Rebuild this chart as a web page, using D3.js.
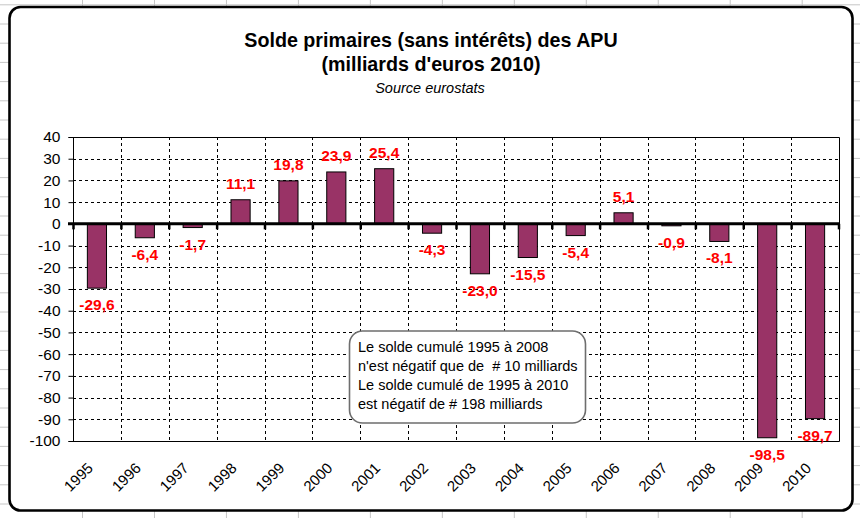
<!DOCTYPE html>
<html>
<head>
<meta charset="utf-8">
<script src="https://cdn.jsdelivr.net/npm/d3@7"></script>
<style>
  body { margin: 0; background: #fff; }
  svg { display: block; font-family: "Liberation Sans", Arial, sans-serif; }
</style>
</head>
<body>
<div id="chart"></div>
<script>
// chart data
const years = ['1995','1996','1997','1998','1999','2000','2001','2002',
               '2003','2004','2005','2006','2007','2008','2009','2010'];
const solde = [-29.6, -6.4, -1.7, 11.1, 19.8, 23.9, 25.4, -4.3,
               -23.0, -15.5, -5.4, 5.1, -0.9, -8.1, -98.5, -89.7];
const yTicks = [40, 30, 20, 10, 0, -10, -20, -30, -40, -50, -60, -70, -80, -90, -100];
const titleLines = ['Solde primaires (sans intérêts) des APU', "(milliards d'euros 2010)"];
const subtitle = 'Source eurostats';
const noteLines = ['Le solde cumulé 1995 à 2008',
                   "n'est négatif que de  # 10 milliards",
                   'Le solde cumulé de 1995 à 2010',
                   'est négatif de # 198 milliards'];

const width = 860, height = 518;
const plot = { left: 73, right: 839, top: 137, bottom: 441 };

// excel style numbers: plain hyphen, decimal comma
const fmtLabel = d => d3.format('.1f')(d).replace('.', ',').replace('\u2212', '-');
const fmtTick = d => String(d);

const svg = d3.select('#chart')
  .append('svg')
  .attr('width', width)
  .attr('height', height);

// spreadsheet grid behind the chart object
const sheet = svg.append('g').attr('stroke', '#c6c6c6').attr('stroke-width', 1);
sheet.selectAll('line.col')
  .data(d3.range(0, 12))
  .enter().append('line')
  .attr('x1', k => 82.5 + k * 71.97).attr('x2', k => 82.5 + k * 71.97)
  .attr('y1', 0).attr('y2', height);
sheet.selectAll('line.row')
  .data(d3.range(0, 28))
  .enter().append('line')
  .attr('y1', k => 4.8 + k * 19.2).attr('y2', k => 4.8 + k * 19.2)
  .attr('x1', 0).attr('x2', width);

// chart object frame
svg.append('rect')
  .attr('x', 9.5).attr('y', 7)
  .attr('width', 843).attr('height', 503.5)
  .attr('rx', 11).attr('ry', 11)
  .attr('fill', '#fff')
  .attr('stroke', '#000')
  .attr('stroke-width', 2.6);

// titles
svg.selectAll('text.title')
  .data(titleLines)
  .enter().append('text')
  .attr('x', 431)
  .attr('y', (d, i) => 46.5 + i * 24.5)
  .attr('text-anchor', 'middle')
  .attr('font-size', '19.7px')
  .attr('font-weight', 'bold')
  .text(d => d);

svg.append('text')
  .attr('x', 430)
  .attr('y', 93)
  .attr('text-anchor', 'middle')
  .attr('font-size', '14.5px')
  .attr('font-style', 'italic')
  .text(subtitle);

// scales
const x = d3.scaleBand()
  .domain(years)
  .range([plot.left, plot.right])
  .paddingInner(0).paddingOuter(0);
const y = d3.scaleLinear()
  .domain([-100, 40])
  .range([plot.bottom, plot.top]);

// horizontal dashed gridlines
svg.append('g')
  .selectAll('line')
  .data(yTicks.filter(v => v !== 40 && v !== -100 && v !== 0))
  .enter().append('line')
  .attr('x1', plot.left).attr('x2', plot.right)
  .attr('y1', d => Math.round(y(d)) + 0.5).attr('y2', d => Math.round(y(d)) + 0.5)
  .attr('stroke', '#000')
  .attr('stroke-dasharray', '3,3');

// vertical dashed gridlines at category boundaries
svg.append('g')
  .selectAll('line')
  .data(years.slice(1))
  .enter().append('line')
  .attr('x1', d => Math.round(x(d)) + 0.5).attr('x2', d => Math.round(x(d)) + 0.5)
  .attr('y1', plot.top).attr('y2', plot.bottom)
  .attr('stroke', '#000')
  .attr('stroke-dasharray', '3,3');

// plot border (top, right, bottom)
svg.append('path')
  .attr('d', `M${plot.left},${plot.top + 0.5}H${plot.right + 0.5}V${plot.bottom + 0.5}H${plot.left}`)
  .attr('fill', 'none')
  .attr('stroke', '#000');

// bars
const barW = x.bandwidth() * 0.4;
svg.append('g')
  .selectAll('rect')
  .data(solde)
  .enter().append('rect')
  .attr('x', (d, i) => x(years[i]) + (x.bandwidth() - barW) / 2)
  .attr('y', d => y(Math.max(0, d)))
  .attr('width', barW)
  .attr('height', d => Math.abs(y(d) - y(0)))
  .attr('fill', '#993366')
  .attr('stroke', '#000')
  .attr('stroke-width', 1);

// y axis
const yAxis = svg.append('g')
  .attr('transform', `translate(${plot.left + 0.5},0)`)
  .call(d3.axisLeft(y).tickValues(yTicks).tickSize(5).tickPadding(8).tickFormat(fmtTick));
yAxis.selectAll('.tick line').attr('stroke', '#000');
yAxis.selectAll('.tick text')
  .attr('font-family', '"Liberation Sans", Arial, sans-serif')
  .attr('font-size', '15.5px')
  .attr('fill', '#000');
yAxis.select('.domain')
  .attr('stroke', '#000')
  .attr('d', `M-5,${plot.top + 0.5}H0V${plot.bottom + 0.5}H-5`);

// zero line with category tick marks
svg.append('line')
  .attr('x1', plot.left - 5).attr('x2', plot.right + 1)
  .attr('y1', y(0)).attr('y2', y(0))
  .attr('stroke', '#000')
  .attr('stroke-width', 3);
svg.append('g')
  .selectAll('line')
  .data(years.concat(['end']))
  .enter().append('line')
  .attr('x1', (d, i) => i < years.length ? x(d) + 0.5 : plot.right)
  .attr('x2', (d, i) => i < years.length ? x(d) + 0.5 : plot.right)
  .attr('y1', y(0)).attr('y2', y(0) + 5.5)
  .attr('stroke', '#000')
  .attr('stroke-width', 2.5);

// data labels
svg.append('g')
  .selectAll('text')
  .data(solde)
  .enter().append('text')
  .attr('x', (d, i) => x(years[i]) + x.bandwidth() / 2)
  .attr('y', d => d >= 0 ? y(d) - 11 : y(d) + 22)
  .attr('text-anchor', 'middle')
  .attr('font-size', '15.5px')
  .attr('font-weight', 'bold')
  .attr('fill', '#ff0000')
  .text(fmtLabel);

// category labels, rotated
svg.append('g')
  .selectAll('text')
  .data(years)
  .enter().append('text')
  .attr('transform', d => `translate(${x(d) + x.bandwidth() / 2 - 3},469) rotate(-45)`)
  .attr('text-anchor', 'end')
  .attr('font-size', '15px')
  .text(d => d);

// annotation box
const note = svg.append('g');
note.append('rect')
  .attr('x', 349.5).attr('y', 331)
  .attr('width', 236).attr('height', 92)
  .attr('rx', 13).attr('ry', 13)
  .attr('fill', '#fff')
  .attr('stroke', '#6e6e6e')
  .attr('stroke-width', 1.6);
note.selectAll('text')
  .data(noteLines)
  .enter().append('text')
  .attr('x', 358)
  .attr('y', (d, i) => 352 + i * 18.9)
  .attr('font-size', '14.5px')
  .attr('xml:space', 'preserve')
  .style('white-space', 'pre')
  .text(d => d);
</script>
</body>
</html>
